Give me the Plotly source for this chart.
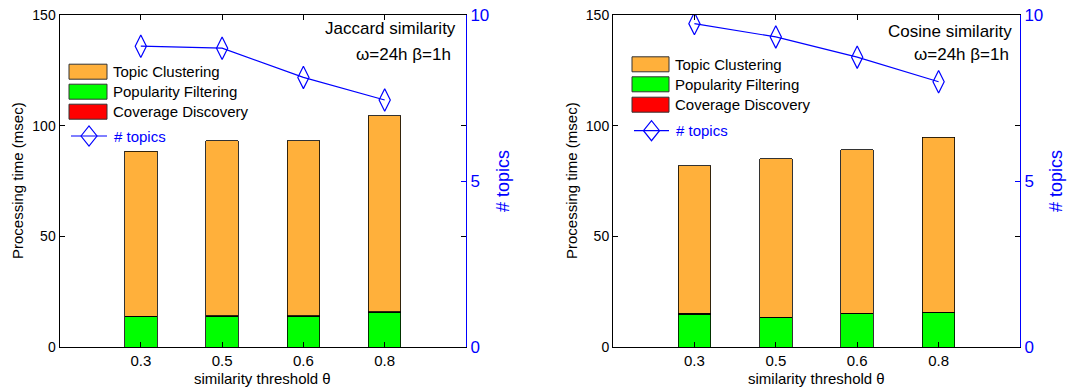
import plotly.graph_objects as go

W, H = 1082, 389
ML, MR, MT, MB = 0, 0, 15, 42
PH = H - MT - MB

thresholds = ["0.3", "0.5", "0.6", "0.8"]

# Jaccard similarity panel
jac_popularity = [13.6, 13.9, 13.9, 15.7]
jac_coverage = [0.2, 0.2, 0.2, 0.2]
jac_clustering = [74.6, 79.0, 79.0, 88.6]
jac_topics = [9.06, 9.0, 8.12, 7.44]

# Cosine similarity panel
cos_popularity = [14.9, 13.2, 15.0, 15.4]
cos_coverage = [0.3, 0.2, 0.2, 0.2]
cos_clustering = [66.7, 71.7, 74.0, 79.2]
cos_topics = [9.74, 9.34, 8.73, 7.99]

ORANGE = "#FFB03B"
GREEN = "#00FF00"
RED = "#FF0000"
BLUE = "#0000FF"
FONT = "Liberation Sans, Arial, sans-serif"


def px(x):
    return (x - ML) / (W - ML - MR)


def py(y):
    return (H - MB - y) / PH


fig = go.Figure()

panels = [
    dict(xa="x", ya="y", ya2="y2", pop=jac_popularity, cov=jac_coverage,
         clu=jac_clustering, top=jac_topics),
    dict(xa="x2", ya="y3", ya2="y4", pop=cos_popularity, cov=cos_coverage,
         clu=cos_clustering, top=cos_topics),
]

for p in panels:
    for name, vals, col in [("Popularity Filtering", p["pop"], GREEN),
                            ("Coverage Discovery", p["cov"], RED),
                            ("Topic Clustering", p["clu"], ORANGE)]:
        fig.add_trace(go.Bar(x=thresholds, y=vals, name=name, width=0.4,
                             marker=dict(color=col, line=dict(color="black", width=0.8)),
                             xaxis=p["xa"], yaxis=p["ya"], showlegend=False))
    fig.add_trace(go.Scatter(x=thresholds, y=p["top"], name="# topics", mode="lines+markers",
                             line=dict(color=BLUE, width=1.2),
                             marker=dict(symbol="diamond-tall-open", size=16,
                                         color=BLUE, line=dict(color=BLUE, width=1.2)),
                             xaxis=p["xa"], yaxis=p["ya2"], showlegend=False))

dom1 = [px(59.5), px(466)]
dom2 = [px(613), px(1020)]

xcommon = dict(type="category", range=[-1, 4], showline=True, linecolor="black", linewidth=1,
               mirror="ticks", ticks="inside", ticklen=5, tickcolor="black",
               tickfont=dict(family=FONT, size=15, color="black"), showgrid=False, zeroline=False)
ycommon = dict(range=[0, 150], tickvals=[0, 50, 100, 150], showline=True, linecolor="black",
               linewidth=1, mirror="ticks", ticks="inside", ticklen=5, tickcolor="black",
               tickfont=dict(family=FONT, size=14, color="black"), showgrid=False, zeroline=False)
y2common = dict(range=[0, 10], tickvals=[0, 5, 10], side="right", showline=True, linecolor=BLUE,
                linewidth=1, ticks="inside", ticklen=5, tickcolor=BLUE,
                tickfont=dict(family=FONT, size=17, color=BLUE), showgrid=False, zeroline=False)

fig.update_layout(
    width=W, height=H, margin=dict(l=ML, r=MR, t=MT, b=MB),
    paper_bgcolor="white", plot_bgcolor="white", barmode="stack",
    showlegend=False,
    xaxis=dict(domain=dom1, anchor="y", **xcommon),
    yaxis=dict(anchor="x", **ycommon),
    yaxis2=dict(anchor="x", overlaying="y", **y2common),
    xaxis2=dict(domain=dom2, anchor="y3", **xcommon),
    yaxis3=dict(anchor="x2", **ycommon),
    yaxis4=dict(anchor="x2", overlaying="y3", **y2common),
)

ann = []
shapes = []


def text(x, y, s, size, color="black", xanchor="center", angle=0):
    ann.append(dict(x=px(x), y=py(y), xref="paper", yref="paper", text=s, showarrow=False,
                    xanchor=xanchor, yanchor="middle", textangle=angle,
                    font=dict(family=FONT, size=size, color=color)))


for cx, ylab_x, y2lab_x in [(262.5, 17, 503), (816.5, 571, 1056)]:
    text(cx, 378, "similarity threshold θ", 15)
    text(ylab_x, 181, "Processing time (msec)", 15, angle=-90)
    text(y2lab_x, 181, "# topics", 18, color=BLUE, angle=-90)

text(458, 29, "Jaccard similarity", 17, xanchor="right")
text(453, 54, "ω=24h β=1h", 17, xanchor="right")
text(1014, 31, "Cosine similarity", 17, xanchor="right")
text(1011, 54, "ω=24h β=1h", 17, xanchor="right")

legend_items = [("Topic Clustering", ORANGE), ("Popularity Filtering", GREEN),
                ("Coverage Discovery", RED)]

for x0, x1, rows, liney in [(69, 107, [71.7, 91.7, 111.7], 136), (632, 669, [64.3, 84.3, 104.7], 130.7)]:
    for (lab, col), ry in zip(legend_items, rows):
        shapes.append(dict(type="rect", xref="paper", yref="paper", x0=px(x0), x1=px(x1),
                           y0=py(ry + 7.5), y1=py(ry - 7.5), fillcolor=col,
                           line=dict(color="#333333", width=1)))
        text(x1 + 4, ry, lab, 15, xanchor="left")
    shapes.append(dict(type="line", xref="paper", yref="paper", x0=px(x0 + 2), x1=px(x1),
                       y0=py(liney), y1=py(liney), line=dict(color=BLUE, width=1.2)))
    cxm = (x0 + 2 + x1) / 2
    shapes.append(dict(type="path", xref="paper", yref="paper", xsizemode="pixel",
                       ysizemode="pixel", xanchor=px(cxm), yanchor=py(liney),
                       path="M -8 0 L 0 10 L 8 0 L 0 -10 Z", fillcolor="rgba(0,0,0,0)",
                       line=dict(color=BLUE, width=1.2)))
    text(x1 + 5, liney, "# topics", 15, color=BLUE, xanchor="left")

fig.update_layout(annotations=ann, shapes=shapes)

fig.write_html("out.html", config={"displayModeBar": False},
               post_script="document.body.style.margin='0';")
